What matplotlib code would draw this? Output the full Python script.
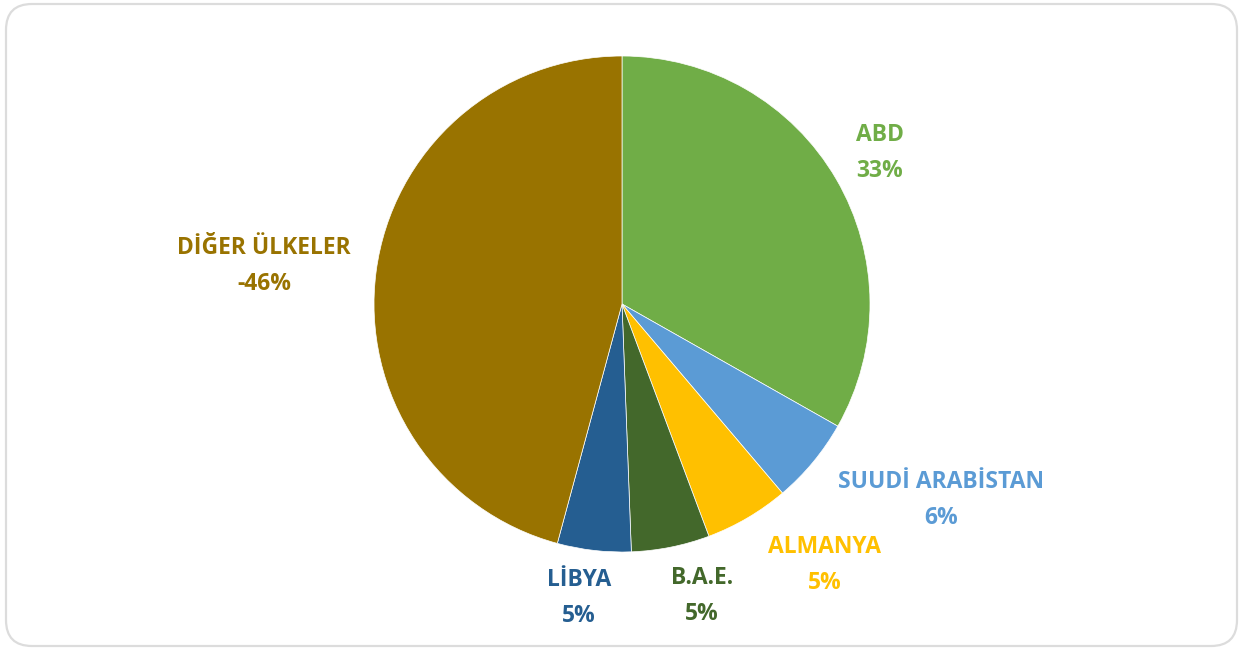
import matplotlib.pyplot as plt
from matplotlib.patches import FancyBboxPatch

ulkeler = ["ABD", "SUUDİ ARABİSTAN", "ALMANYA", "B.A.E.", "LİBYA", "DİĞER ÜLKELER"]
paylar = [33.2, 5.6, 5.5, 5.1, 4.8, 45.8]
etiketler = ["33%", "6%", "5%", "5%", "5%", "-46%"]
renkler = ["#70AD47", "#5B9BD5", "#FFC000", "#43682B", "#255E91", "#997300"]

# etiket yerleri (piksel, sol üstten)
yerler = [(880, 153), (941, 500), (825, 565), (702, 596), (579, 598), (264, 266)]

W, H = 1244, 649
fig = plt.figure(figsize=(W / 100, H / 100), dpi=100)
plt.rcParams['font.family'] = ['Open Sans', 'DejaVu Sans']

cerceve = FancyBboxPatch((6, 3), W - 13, H - 7, boxstyle="round,pad=0,rounding_size=26",
                         transform=None, facecolor="none", edgecolor="#DCDCDC",
                         linewidth=1.6, zorder=5)
fig.patches.append(cerceve)

ax = fig.add_axes([0, 0, 1, 1])
ax.patch.set_alpha(0)

ax.pie(paylar, colors=renkler, startangle=90, counterclock=False,
       center=(622, H - 304), radius=248,
       wedgeprops=dict(linewidth=0.5, edgecolor="white"))
ax.set_xlim(0, W)
ax.set_ylim(0, H)
ax.set_aspect("auto")
ax.axis("off")

for ad, et, renk, (x, y) in zip(ulkeler, etiketler, renkler, yerler):
    ax.text(x, H - y, ad + "\n" + et, color=renk, fontsize=16.5, fontweight="bold",
            ha="center", va="center", linespacing=1.62)

fig.savefig("out.png", dpi=100)
